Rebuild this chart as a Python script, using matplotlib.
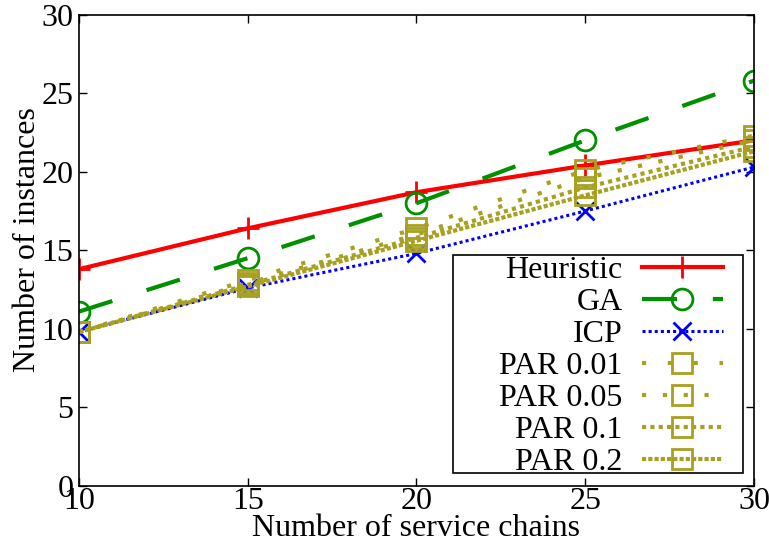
import matplotlib
matplotlib.use("Agg")
import matplotlib.pyplot as plt
from matplotlib.patches import Rectangle
from matplotlib.ticker import FixedLocator

plt.rcParams['font.family'] = ['Liberation Serif', 'DejaVu Serif']

# Number of service chains
chains = [10, 15, 20, 25, 30]

# Number of instances per method
heuristic = [13.8, 16.4, 18.7, 20.4, 22.0]
ga = [11.1, 14.5, 18.0, 22.0, 25.8]
icp = [9.8, 12.6, 14.8, 17.5, 20.3]
par_001 = [9.8, 13.1, 16.4, 20.1, 22.3]
par_005 = [9.8, 12.9, 16.0, 19.6, 22.0]
par_01 = [9.8, 12.8, 15.8, 19.0, 21.6]
par_02 = [9.8, 12.7, 15.6, 18.5, 21.3]

x_ticks = [10, 15, 20, 25, 30]
y_ticks = [0, 5, 10, 15, 20, 25, 30]

RED = '#ff0000'
GREEN = '#009000'
BLUE = '#0000ff'
OLIVE = '#a8a020'
FS = 23

fig = plt.figure(figsize=(7.69, 5.43), dpi=100)
ax = fig.add_axes([0.1027, 0.105, 0.8778, 0.868])

ax.plot(chains, heuristic, color=RED, lw=3, ls='-', marker='+', ms=16, mew=2,
        label='Heuristic')
ax.plot(chains, ga, color=GREEN, lw=3, ls=(0, (8.4, 8.6)), marker='o', ms=15,
        mew=2, mfc='none', label='GA')
ax.plot(chains, icp, color=BLUE, lw=2.2, ls=(0, (1, 1)), marker='x', ms=13,
        mew=2, label='ICP')

par_series = [
    (par_001, 'PAR 0.01', (0, (1, 5.2))),
    (par_005, 'PAR 0.05', (0, (1, 4.0))),
    (par_01, 'PAR 0.1', (0, (1, 1.0))),
    (par_02, 'PAR 0.2', (0, (1, 0.5))),
]
for vals, lab, style in par_series:
    ax.plot(chains, vals, color=OLIVE, lw=3, ls=style, marker='s', ms=14,
            mew=2, mfc='none', label=lab, dash_capstyle='butt')

ax.set_xlim(10, 30)
ax.set_ylim(0, 30)
ax.xaxis.set_major_locator(FixedLocator(x_ticks))
ax.yaxis.set_major_locator(FixedLocator(y_ticks))
ax.tick_params(direction='in', length=6, width=1, labelsize=FS,
               top=True, right=True, pad=4)
ax.tick_params(axis='x', pad=1)
for s in ax.spines.values():
    s.set_linewidth(1.2)

ax.set_xlabel('Number of service chains', fontsize=FS, labelpad=-2)
ax.set_ylabel('Number of instances', fontsize=FS)
ax.yaxis.set_label_coords(-0.055, 0.522)

# Key box with right-aligned labels and wide frame
ax.add_patch(Rectangle((0.554, 0.028), 0.43, 0.462, transform=ax.transAxes,
                       fill=True, facecolor='white', edgecolor='black',
                       lw=1.2, zorder=4))
leg = ax.legend(loc='upper right', bbox_to_anchor=(0.954, 0.488),
                borderaxespad=0, markerfirst=False, fontsize=FS,
                handlelength=2.54, labelspacing=0.08, handletextpad=0.6,
                borderpad=0.0, numpoints=1, frameon=False)
leg.set_zorder(5)

fig.savefig('out.png', dpi=100)
